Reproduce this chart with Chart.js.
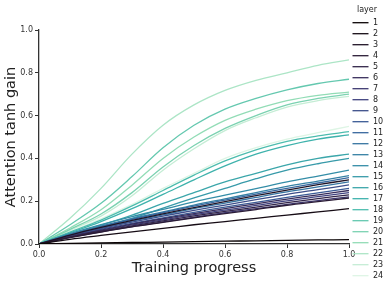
<!DOCTYPE html>
<html>
<head>
<meta charset="utf-8">
<script src="https://cdn.jsdelivr.net/npm/chart.js@4.4.0/dist/chart.umd.min.js"></script>
<style>
  html, body { margin: 0; padding: 0; background: #fff; }
  #wrap { width: 390px; height: 288px; position: relative; }
</style>
</head>
<body>
<div id="wrap"><canvas id="chart" width="390" height="288"></canvas></div>
<script>
// training progress samples (x)
var progress = [0, 0.1, 0.2, 0.3, 0.4, 0.5, 0.6, 0.7, 0.8, 0.9, 1.0];

// layer names for legend
var layers = ["1","2","3","4","5","6","7","8","9","10","11","12",
              "13","14","15","16","17","18","19","20","21","22","23","24"];

// attention tanh gain per layer
var gain1  = [0, 0.003, 0.005, 0.007, 0.009, 0.011, 0.013, 0.015, 0.017, 0.019, 0.02];
var gain2  = [0, 0.022, 0.040, 0.057, 0.073, 0.090, 0.105, 0.120, 0.135, 0.150, 0.165];
var gain3  = [0, 0.042, 0.078, 0.110, 0.141, 0.170, 0.198, 0.226, 0.252, 0.277, 0.300];
var gain4  = [0, 0.030, 0.056, 0.080, 0.101, 0.122, 0.142, 0.161, 0.181, 0.198, 0.215];
var gain5  = [0, 0.032, 0.060, 0.085, 0.108, 0.131, 0.152, 0.172, 0.193, 0.212, 0.230];
var gain6  = [0, 0.035, 0.065, 0.093, 0.118, 0.142, 0.165, 0.188, 0.210, 0.230, 0.250];
var gain7  = [0, 0.031, 0.057, 0.081, 0.103, 0.125, 0.146, 0.165, 0.185, 0.203, 0.220];
var gain8  = [0, 0.034, 0.062, 0.089, 0.113, 0.137, 0.158, 0.180, 0.202, 0.221, 0.240];
var gain9  = [0, 0.039, 0.072, 0.102, 0.130, 0.157, 0.182, 0.207, 0.232, 0.254, 0.276];
var gain10 = [0, 0.036, 0.068, 0.096, 0.122, 0.148, 0.172, 0.195, 0.218, 0.239, 0.260];
var gain11 = [0, 0.043, 0.081, 0.115, 0.146, 0.177, 0.205, 0.233, 0.260, 0.285, 0.310];
var gain12 = [0, 0.041, 0.075, 0.107, 0.136, 0.165, 0.191, 0.218, 0.244, 0.267, 0.290];
var gain13 = [0, 0.045, 0.083, 0.118, 0.150, 0.182, 0.211, 0.240, 0.269, 0.294, 0.320];
var gain14 = [0, 0.048, 0.090, 0.128, 0.162, 0.197, 0.228, 0.259, 0.290, 0.317, 0.345];
var gain15 = [0, 0.040, 0.078, 0.120, 0.168, 0.215, 0.260, 0.305, 0.345, 0.375, 0.400];
var gain16 = [0, 0.045, 0.088, 0.135, 0.190, 0.240, 0.290, 0.330, 0.370, 0.400, 0.420];
var gain17 = [0, 0.052, 0.105, 0.165, 0.232, 0.300, 0.365, 0.420, 0.460, 0.490, 0.510];
var gain18 = [0, 0.056, 0.112, 0.178, 0.250, 0.322, 0.388, 0.440, 0.480, 0.505, 0.525];
var gain19 = [0, 0.090, 0.190, 0.315, 0.450, 0.555, 0.630, 0.680, 0.720, 0.750, 0.770];
var gain20 = [0, 0.068, 0.140, 0.240, 0.360, 0.460, 0.540, 0.600, 0.650, 0.680, 0.700];
var gain21 = [0, 0.075, 0.160, 0.275, 0.400, 0.500, 0.578, 0.630, 0.670, 0.695, 0.710];
var gain22 = [0, 0.120, 0.260, 0.420, 0.555, 0.650, 0.718, 0.765, 0.800, 0.835, 0.860];
var gain23 = [0, 0.064, 0.130, 0.225, 0.345, 0.445, 0.530, 0.590, 0.640, 0.670, 0.690];
var gain24 = [0, 0.058, 0.118, 0.185, 0.260, 0.330, 0.400, 0.450, 0.490, 0.520, 0.550];

var gains = [gain1, gain2, gain3, gain4, gain5, gain6, gain7, gain8, gain9, gain10, gain11, gain12,
             gain13, gain14, gain15, gain16, gain17, gain18, gain19, gain20, gain21, gain22, gain23, gain24];

var xTicks = [0, 0.2, 0.4, 0.6, 0.8, 1.0];
var yTicks = [0, 0.2, 0.4, 0.6, 0.8, 1.0];

// mako-like palette stops
var makoStops = [
    [0.0,   [11, 4, 5]],
    [0.143, [46, 30, 59]],
    [0.286, [65, 61, 123]],
    [0.429, [55, 101, 158]],
    [0.571, [52, 143, 167]],
    [0.714, [64, 183, 173]],
    [0.857, [139, 218, 178]],
    [1.0,   [222, 245, 229]]
];

function mako(t) {
    for (var i = 1; i < makoStops.length; i++) {
        if (t <= makoStops[i][0]) {
            var a = makoStops[i - 1], b = makoStops[i];
            var f = (t - a[0]) / (b[0] - a[0]);
            var c = a[1].map(function (v, k) { return Math.round(v + (b[1][k] - v) * f); });
            return "rgb(" + c.join(",") + ")";
        }
    }
    return "rgb(222,245,229)";
}

var datasets = [];
for (var i = 0; i < layers.length; i++) {
    var col = mako(i / (layers.length - 1));
    datasets.push({
        label: layers[i],
        data: progress.map(function (p, k) { return {x: p, y: gains[i][k]}; }),
        borderColor: col,
        backgroundColor: col,
        borderWidth: 1.3,
        pointRadius: 0,
        tension: 0.35,
        fill: false
    });
}

// legend drawn at the right, like seaborn's
var sideLegend = {
    id: "sideLegend",
    afterDraw: function (chart) {
        var ctx = chart.ctx;
        ctx.save();
        ctx.font = "8px 'DejaVu Sans'";
        ctx.fillStyle = "#222";
        ctx.textBaseline = "middle";
        ctx.textAlign = "center";
        ctx.fillText("layer", 367, 10);
        ctx.textAlign = "left";
        chart.data.datasets.forEach(function (ds, i) {
            var y = 22.7 + i * 11;
            ctx.strokeStyle = ds.borderColor;
            ctx.lineWidth = 1.3;
            ctx.beginPath();
            ctx.moveTo(352.5, y);
            ctx.lineTo(368.5, y);
            ctx.stroke();
            ctx.fillText(ds.label, 373, y + 0.5);
        });
        ctx.restore();
    }
};

var axisColor = "#333";

new Chart(document.getElementById("chart").getContext("2d"), {
    type: "line",
    data: {datasets: datasets},
    options: {
        responsive: false,
        animation: false,
        events: [],
        layout: {padding: {top: 30, right: 41, left: 0, bottom: 0}},
        plugins: {legend: {display: false}, tooltip: {enabled: false}},
        scales: {
            x: {
                type: "linear",
                min: 0, max: 1.0,
                afterBuildTicks: function (s) { s.ticks = xTicks.map(function (v) { return {value: v}; }); },
                afterFit: function (s) { s.height = 44; },
                ticks: {
                    color: axisColor, padding: 2,
                    font: {family: "'DejaVu Sans'", size: 8},
                    maxRotation: 0,
                    callback: function (v) { return v.toFixed(1); }
                },
                grid: {drawOnChartArea: false, drawTicks: true, tickLength: 4, color: axisColor, lineWidth: 1},
                border: {display: true, color: axisColor, width: 1.3},
                title: {display: true, text: "Training progress", color: "#222",
                        font: {family: "'DejaVu Sans'", size: 14.5}, padding: {top: 0, bottom: 11}}
            },
            y: {
                type: "linear",
                min: 0, max: 1.0,
                afterBuildTicks: function (s) { s.ticks = yTicks.map(function (v) { return {value: v}; }); },
                afterFit: function (s) { s.width = 39; },
                ticks: {
                    color: axisColor, padding: 2,
                    font: {family: "'DejaVu Sans'", size: 8},
                    callback: function (v) { return v.toFixed(1); }
                },
                grid: {drawOnChartArea: false, drawTicks: true, tickLength: 4, color: axisColor, lineWidth: 1},
                border: {display: true, color: axisColor, width: 1.3},
                title: {display: true, text: "Attention tanh gain", color: "#222",
                        font: {family: "'DejaVu Sans'", size: 14.5}, padding: {top: 3, bottom: 0}}
            }
        }
    },
    plugins: [sideLegend]
});
</script>
</body>
</html>
